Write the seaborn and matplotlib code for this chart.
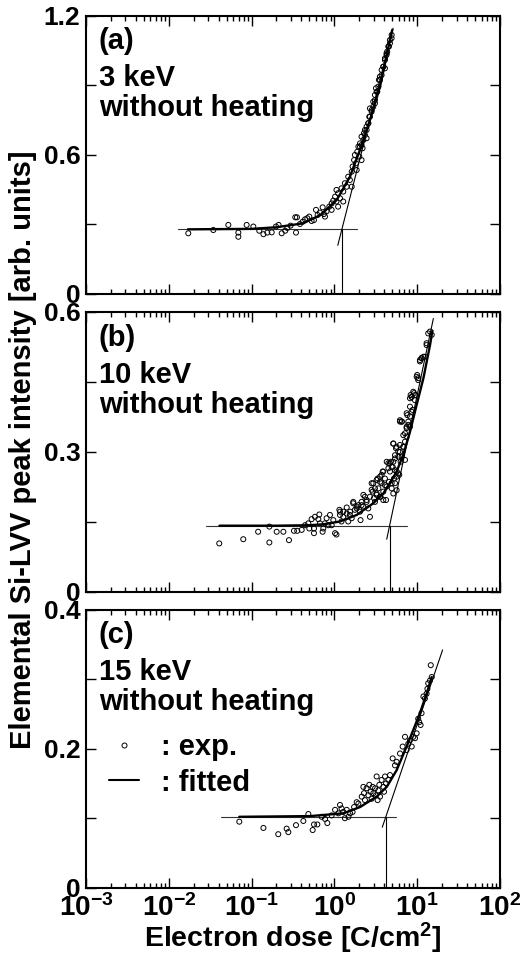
import seaborn as sns
import matplotlib.pyplot as plt
from matplotlib.lines import Line2D
from matplotlib.ticker import LogLocator, NullFormatter

# Setup
sns.set_theme(style="ticks")
plt.rcParams['font.family'] = ['Liberation Sans', 'DejaVu Sans']
plt.rcParams['font.weight'] = 'bold'
plt.rcParams['mathtext.fontset'] = 'custom'
plt.rcParams['mathtext.rm'] = 'Liberation Sans:bold'
plt.rcParams['mathtext.it'] = 'Liberation Sans:bold'
plt.rcParams['mathtext.bf'] = 'Liberation Sans:bold'
plt.rcParams['mathtext.default'] = 'rm'
for k in ['text.color', 'axes.labelcolor', 'xtick.color', 'ytick.color', 'axes.edgecolor']:
    plt.rcParams[k] = 'black'

# (a) 3 keV
dose_a = [0.0172, 0.0345, 0.0524, 0.0692, 0.0692, 0.0872, 0.105, 0.124, 0.139, 0.155,
          0.175, 0.197, 0.212, 0.231, 0.255, 0.270, 0.296, 0.337, 0.353, 0.344,
          0.384, 0.414, 0.442, 0.471, 0.498, 0.531, 0.567, 0.600, 0.628, 0.670,
          0.722, 0.748, 0.806, 0.869, 0.927, 0.970, 1.02, 1.06, 1.11, 1.17,
          1.22, 1.28, 1.34, 1.41, 1.47, 1.54, 1.62, 1.66, 1.73, 1.77,
          1.82, 1.89, 1.95, 2.00, 2.04, 2.13, 2.19, 2.28, 2.34, 2.45,
          2.57, 2.64, 2.69, 2.82, 2.95, 3.09, 3.18, 3.30, 3.45, 3.55,
          3.72, 3.90, 4.08, 4.27, 4.35, 4.56, 4.69, 4.91,
          1.62, 1.86, 2.13, 2.45, 3.09, 4.08, 1.28, 1.11, 0.927, 0.77, 1.06,
          4.92, 4.69, 4.48, 4.27, 4.08, 3.90, 3.72, 3.56, 3.40, 3.24,
          3.09, 2.95, 2.82, 2.69, 2.57, 2.45, 2.34, 2.24, 2.13, 2.04]
int_a = [0.262, 0.276, 0.298, 0.265, 0.247, 0.298, 0.291, 0.273, 0.258, 0.265,
         0.266, 0.291, 0.298, 0.262, 0.273, 0.285, 0.295, 0.331, 0.331, 0.265,
         0.302, 0.312, 0.322, 0.327, 0.334, 0.315, 0.319, 0.363, 0.341, 0.351,
         0.374, 0.345, 0.357, 0.377, 0.391, 0.403, 0.420, 0.399, 0.435, 0.413,
         0.456, 0.442, 0.478, 0.463, 0.506, 0.492, 0.528, 0.550, 0.578, 0.600,
         0.564, 0.614, 0.636, 0.593, 0.650, 0.679, 0.629, 0.694, 0.708, 0.722,
         0.737, 0.765, 0.801, 0.794, 0.830, 0.859, 0.888, 0.873, 0.924, 0.938,
         0.967, 0.981, 1.017, 1.032, 1.046, 1.068, 1.082, 1.104,
         0.463, 0.535, 0.578, 0.672, 0.823, 0.974, 0.399, 0.377, 0.363, 0.334, 0.449,
         1.118, 1.096, 1.068, 1.039, 1.010, 0.981, 0.945, 0.924, 0.895, 0.873,
         0.837, 0.808, 0.787, 0.765, 0.737, 0.708, 0.686, 0.665, 0.643, 0.636]
fit_dose_a = [0.017, 0.1, 0.2, 0.42, 0.68, 1.07, 1.54, 2.04, 2.69, 3.56, 4.69, 5.0]
fit_int_a = [0.279, 0.281, 0.288, 0.305, 0.341, 0.406, 0.506, 0.622, 0.751, 0.895, 1.096, 1.14]
base_dose_a = [0.013, 1.9]
base_int_a = [0.28, 0.28]
tan_dose_a = [1.10, 5.13]
tan_int_a = [0.21, 1.147]
onset_a = 1.22

# (b) 10 keV
dose_b = [0.0407, 0.0794, 0.120, 0.164, 0.164, 0.201, 0.242, 0.283, 0.325, 0.356,
          0.403, 0.442, 0.484, 0.498, 0.531, 0.567, 0.567, 0.583, 0.640, 0.658,
          0.670, 0.721, 0.735, 0.769, 0.806, 0.845, 0.885, 0.927, 0.971, 1.02,
          1.06, 1.15, 1.17, 1.22, 1.28, 1.41, 1.47, 1.54, 1.62, 1.69,
          1.77, 1.86, 1.95, 2.04, 2.07, 2.13, 2.23, 2.34, 2.45, 2.57,
          2.69, 2.82, 2.90, 3.01, 3.09, 3.24, 3.33, 3.40, 3.56, 3.62,
          3.72, 3.83, 3.90, 4.08, 4.21, 4.29, 4.49, 4.57, 4.69, 4.82,
          4.92, 5.06, 5.15, 5.25, 5.40, 5.55, 5.65, 5.92, 6.08, 6.20,
          6.31, 6.55, 6.80, 7.13, 7.46, 7.60, 7.81, 8.19, 8.34, 8.57,
          8.81, 9.14, 9.40, 9.86, 10.3, 10.8, 11.3, 11.9, 13.0, 13.6,
          14.3, 15.0,
          13.0, 12.4, 11.3, 10.8, 10.0, 10.3, 8.97, 8.57, 8.19, 9.42,
          7.46, 8.19, 8.57, 6.20, 6.49, 7.81, 8.19, 7.46, 6.80, 7.46,
          7.13, 5.15, 5.65, 6.20, 6.80, 5.40, 6.20, 5.92, 6.49, 7.13,
          4.69, 5.15, 4.92, 4.49, 5.40, 5.92, 5.65, 3.90, 3.56, 4.08,
          3.72, 3.24, 4.28, 4.92, 5.40, 5.65, 5.15, 2.95, 2.82, 3.24,
          3.56, 3.90, 3.09, 2.69, 2.45, 2.24, 2.13, 1.86, 1.69, 1.55,
          1.41, 1.17, 1.28]
int_b = [0.104, 0.113, 0.129, 0.140, 0.106, 0.129, 0.129, 0.111, 0.131, 0.131,
         0.133, 0.143, 0.147, 0.136, 0.156, 0.136, 0.126, 0.161, 0.156, 0.166,
         0.147, 0.129, 0.136, 0.147, 0.158, 0.143, 0.165, 0.143, 0.154, 0.126,
         0.123, 0.176, 0.165, 0.151, 0.172, 0.181, 0.151, 0.165, 0.158, 0.193,
         0.176, 0.179, 0.186, 0.172, 0.154, 0.193, 0.183, 0.204, 0.193, 0.179,
         0.161, 0.233, 0.215, 0.201, 0.222, 0.208, 0.243, 0.222, 0.236, 0.204,
         0.251, 0.258, 0.215, 0.229, 0.197, 0.279, 0.276, 0.236, 0.258, 0.279,
         0.222, 0.268, 0.318, 0.243, 0.286, 0.308, 0.258, 0.301, 0.251, 0.365,
         0.279, 0.365, 0.311, 0.322, 0.351, 0.379, 0.358, 0.397, 0.422, 0.418,
         0.390, 0.426, 0.411, 0.461, 0.454, 0.497, 0.501, 0.504, 0.533, 0.554,
         0.558, 0.551,
         0.529, 0.504, 0.501, 0.494, 0.465, 0.458, 0.429, 0.418, 0.415, 0.422,
         0.383, 0.376, 0.386, 0.368, 0.365, 0.365, 0.354, 0.354, 0.336, 0.333,
         0.340, 0.318, 0.311, 0.315, 0.311, 0.293, 0.300, 0.290, 0.290, 0.283,
         0.276, 0.279, 0.268, 0.265, 0.261, 0.254, 0.247, 0.258, 0.247, 0.243,
         0.233, 0.240, 0.226, 0.233, 0.233, 0.218, 0.211, 0.233, 0.219, 0.211,
         0.204, 0.197, 0.193, 0.204, 0.197, 0.208, 0.186, 0.183, 0.190, 0.172,
         0.168, 0.172, 0.161]
fit_dose_b = [0.041, 0.2, 0.5, 0.734, 1.17, 1.86, 2.95, 3.90, 4.69, 5.65, 6.80, 8.19, 9.86, 11.9, 14.3, 15.3]
fit_int_b = [0.142, 0.142, 0.143, 0.145, 0.151, 0.165, 0.190, 0.211, 0.233, 0.258, 0.294, 0.343, 0.401, 0.458, 0.529, 0.560]
base_dose_b = [0.0281, 7.6]
base_int_b = [0.142, 0.142]
tan_dose_b = [4.29, 15.7]
tan_int_b = [0.113, 0.586]
onset_b = 4.69

# (c) 15 keV
dose_c = [0.0711, 0.139, 0.210, 0.265, 0.278, 0.344, 0.422, 0.485, 0.547, 0.568,
          0.623, 0.703, 0.771, 0.822, 0.927, 1.02, 1.12, 1.17, 1.22, 1.28,
          1.34, 1.41, 1.48, 1.55, 1.66, 1.73, 1.86, 1.95, 2.14, 2.24,
          2.28, 2.34, 2.45, 2.57, 2.64, 2.74, 2.82, 2.90, 2.96, 3.10,
          3.18, 3.24, 3.33, 3.40, 3.49, 3.56, 3.72, 3.90, 3.98, 4.09,
          4.21, 4.49, 4.70, 5.06, 5.40, 5.65, 6.21, 6.68, 7.13, 7.46,
          7.81, 8.19, 8.59, 8.99, 9.42, 9.86, 10.3, 10.6, 11.0, 11.3,
          11.9, 12.4, 13.0, 13.3, 13.6, 14.3, 15.0, 14.6]
int_c = [0.095, 0.086, 0.077, 0.085, 0.080, 0.090, 0.096, 0.106, 0.083, 0.091,
         0.091, 0.102, 0.099, 0.093, 0.104, 0.112, 0.107, 0.119, 0.114, 0.109,
         0.100, 0.112, 0.102, 0.107, 0.109, 0.116, 0.123, 0.121, 0.131, 0.145,
         0.136, 0.126, 0.143, 0.133, 0.148, 0.138, 0.128, 0.145, 0.136, 0.143,
         0.133, 0.160, 0.126, 0.140, 0.148, 0.131, 0.155, 0.145, 0.138, 0.160,
         0.150, 0.155, 0.162, 0.186, 0.176, 0.181, 0.193, 0.203, 0.217, 0.198,
         0.207, 0.212, 0.203, 0.217, 0.215, 0.222, 0.243, 0.238, 0.234, 0.251,
         0.275, 0.272, 0.279, 0.286, 0.294, 0.298, 0.303, 0.320]
fit_dose_c = [0.071, 0.508, 1.28, 2.04, 3.24, 4.29, 5.65, 7.46, 8.99, 10.8, 13.0, 15.0]
fit_int_c = [0.102, 0.103, 0.107, 0.116, 0.131, 0.145, 0.169, 0.203, 0.227, 0.251, 0.279, 0.303]
base_dose_c = [0.0424, 5.55]
base_int_c = [0.102, 0.102]
tan_dose_c = [3.79, 20.3]
tan_int_c = [0.087, 0.342]
onset_c = 4.25

x_ticks = [1e-3, 1e-2, 1e-1, 1e0, 1e1, 1e2]
x_labels = [r'$10^{-3}$', r'$10^{-2}$', r'$10^{-1}$', r'$10^{0}$', r'$10^{1}$', r'$10^{2}$']

panels = [
    dict(x=dose_a, y=int_a, fx=fit_dose_a, fy=fit_int_a, bx=base_dose_a, by=base_int_a,
         tx=tan_dose_a, ty=tan_int_a, onset=onset_a,
         yticks=[0, 0.3, 0.6, 0.9, 1.2], ylabels=['0', '', '0.6', '', '1.2'],
         text=['(a)', '3 keV', 'without heating']),
    dict(x=dose_b, y=int_b, fx=fit_dose_b, fy=fit_int_b, bx=base_dose_b, by=base_int_b,
         tx=tan_dose_b, ty=tan_int_b, onset=onset_b,
         yticks=[0, 0.15, 0.3, 0.45, 0.6], ylabels=['0', '', '0.3', '', '0.6'],
         text=['(b)', '10 keV', 'without heating']),
    dict(x=dose_c, y=int_c, fx=fit_dose_c, fy=fit_int_c, bx=base_dose_c, by=base_int_c,
         tx=tan_dose_c, ty=tan_int_c, onset=onset_c,
         yticks=[0, 0.1, 0.2, 0.3, 0.4], ylabels=['0', '', '0.2', '', '0.4'],
         text=['(c)', '15 keV', 'without heating']),
]

# axes boxes in figure fraction (left, bottom, width, height)
boxes = [(0.1641, 0.6925, 0.790, 0.2908),
         (0.1641, 0.3808, 0.790, 0.2929),
         (0.1641, 0.0714, 0.790, 0.2910)]
text_y = [0.880, 0.748, 0.640]

fig = plt.figure(figsize=(5.24, 9.56), dpi=100)
axes = []
for p, box in zip(panels, boxes):
    ax = fig.add_axes(box)
    axes.append(ax)
    sns.lineplot(x=p['bx'], y=p['by'], ax=ax, color='#333333', lw=0.8,
                 estimator=None, sort=False)
    sns.lineplot(x=p['tx'], y=p['ty'], ax=ax, color='black', lw=0.8,
                 estimator=None, sort=False)
    ax.vlines(p['onset'], 0, p['by'][0], color='black', lw=0.8)
    sns.lineplot(x=p['fx'], y=p['fy'], ax=ax, color='black', lw=1.7,
                 estimator=None, sort=False)
    sns.scatterplot(x=p['x'], y=p['y'], ax=ax, marker='o', s=13,
                    facecolor='none', edgecolor='black', linewidth=0.7, zorder=3)
    ax.set_xscale('log')
    ax.set_xlim(1e-3, 1e2)
    ax.set_xticks(x_ticks, labels=x_labels)
    ax.xaxis.set_minor_locator(LogLocator(base=10, subs=range(2, 10), numticks=20))
    ax.xaxis.set_minor_formatter(NullFormatter())
    ax.set_ylim(p['yticks'][0], p['yticks'][-1])
    ax.set_yticks(p['yticks'], labels=p['ylabels'])
    ax.tick_params(which='both', direction='in', top=True, right=True, width=1.0)
    ax.tick_params(which='major', length=7.2, pad=4)
    ax.tick_params(which='minor', length=3.6)
    ax.tick_params(axis='y', labelsize=19)
    ax.tick_params(axis='x', labelsize=20, pad=4.5)
    for s in ax.spines.values():
        s.set_linewidth(1.5)
    for line, ty in zip(p['text'], text_y):
        ax.text(0.031, ty, line, transform=ax.transAxes, fontsize=21,
                fontweight='bold', va='baseline', ha='left')

axes[0].tick_params(axis='x', labelbottom=False)
axes[1].tick_params(axis='x', labelbottom=False)

# legend in panel (c)
handles = [Line2D([], [], marker='o', ls='none', mfc='none', mec='black', ms=3.6, mew=0.7),
           Line2D([], [], color='black', lw=1.5)]
axes[2].legend(handles, [': exp.', ': fitted'], loc='upper left',
               bbox_to_anchor=(0.055, 0.555), frameon=False, fontsize=21,
               handlelength=1.05, handletextpad=0.75, labelspacing=0.25,
               borderpad=0, borderaxespad=0)

fig.text(23 / 524, 1 - 450 / 956, 'Elemental Si-LVV peak intensity [arb. units]',
         rotation=90, ha='center', va='center', fontsize=21, fontweight='bold')
fig.text(293 / 524, 1 - 947 / 956, r'Electron dose [C/cm$^{2}$]',
         ha='center', va='baseline', fontsize=20.5, fontweight='bold')

fig.savefig('out.png', dpi=100)
